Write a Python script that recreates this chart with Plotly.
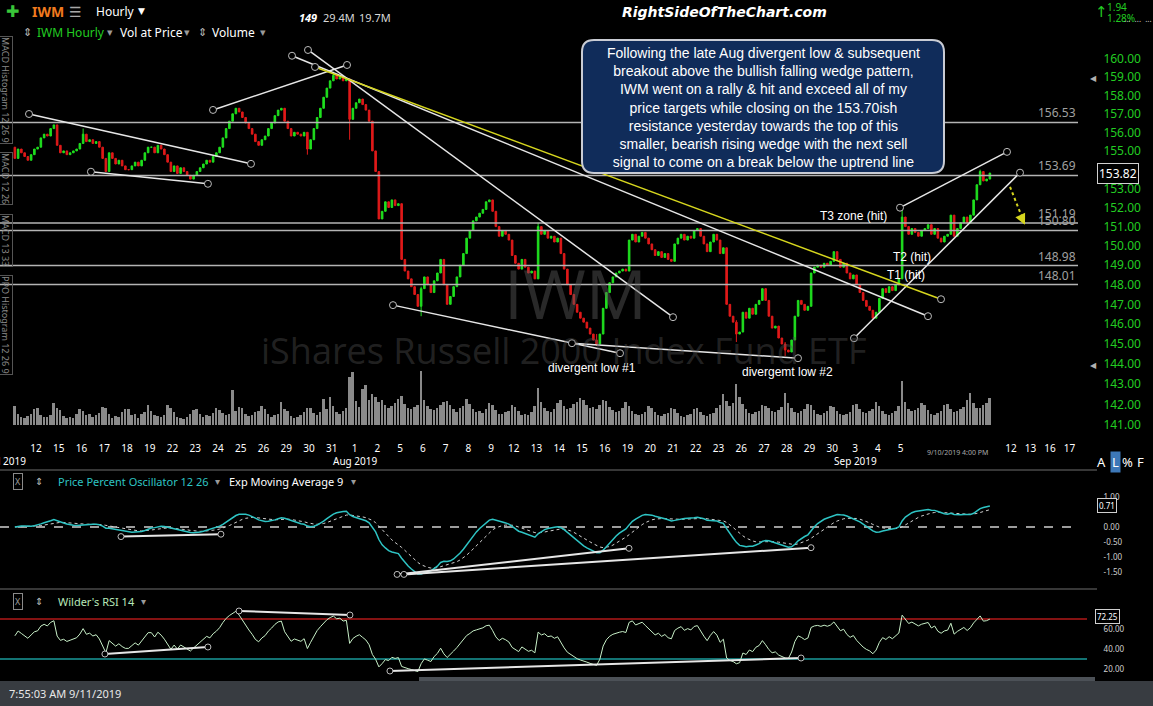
import numpy as np
import plotly.graph_objects as go

W, H = 1153, 706

# ---------------- DATA ----------------
session_days = ["Jul 11", "Jul 12", "Jul 15", "Jul 16", "Jul 17", "Jul 18", "Jul 19", "Jul 22", "Jul 23",
                "Jul 24", "Jul 25", "Jul 26", "Jul 29", "Jul 30", "Jul 31", "Aug 1", "Aug 2", "Aug 5",
                "Aug 6", "Aug 7", "Aug 8", "Aug 9", "Aug 12", "Aug 13", "Aug 14", "Aug 15", "Aug 16",
                "Aug 19", "Aug 20", "Aug 21", "Aug 22", "Aug 23", "Aug 26", "Aug 27", "Aug 28", "Aug 29",
                "Aug 30", "Sep 3", "Sep 4", "Sep 5", "Sep 6", "Sep 9", "Sep 10"]

# hourly closes, 7 bars per session
hourly_close = [
    [154.6, 155.1, 154.9, 154.7, 154.5, 154.8, 155.1],
    [155.2, 155.7, 155.9, 155.8, 156.2, 156.4, 155.3],
    [154.9, 155.0, 154.8, 154.9, 155.0, 155.1, 155.4],
    [155.9, 155.5, 155.6, 155.4, 155.5, 155.2, 154.6],
    [153.9, 154.9, 154.6, 154.3, 154.5, 154.2, 154.0],
    [154.0, 154.2, 154.4, 154.2, 154.5, 154.9, 155.2],
    [155.2, 154.9, 155.3, 155.1, 154.8, 154.4, 153.9],
    [154.2, 153.8, 154.1, 153.9, 153.7, 153.5, 153.7],
    [153.9, 154.1, 154.3, 154.5, 154.4, 154.7, 154.9],
    [155.2, 155.7, 156.2, 156.6, 157.0, 157.3, 157.1],
    [156.8, 156.5, 156.2, 155.9, 155.5, 155.3, 155.6],
    [155.8, 156.2, 156.5, 156.9, 157.2, 157.3, 156.6],
    [156.2, 155.8, 156.0, 155.9, 155.8, 156.0, 155.1],
    [155.6, 156.2, 156.8, 157.3, 157.9, 158.4, 158.8],
    [159.1, 158.9, 159.0, 158.8, 158.9, 156.7, 157.3],
    [157.6, 157.8, 157.5, 157.2, 156.6, 155.0, 153.9],
    [151.4, 151.8, 152.3, 152.0, 152.4, 152.1, 152.2],
    [149.3, 148.7, 148.3, 147.9, 147.5, 146.9, 147.8],
    [148.4, 148.0, 147.6, 148.2, 148.6, 149.3, 148.0],
    [147.0, 147.4, 147.9, 148.4, 149.0, 149.6, 150.4],
    [150.8, 151.3, 151.5, 151.7, 151.9, 152.3, 152.4],
    [151.8, 151.0, 150.5, 150.8, 150.6, 150.3, 149.5],
    [149.1, 148.8, 149.3, 148.9, 148.6, 148.7, 148.3],
    [151.0, 150.6, 150.8, 150.4, 150.5, 150.2, 150.4],
    [149.6, 148.8, 148.0, 147.5, 147.0, 146.6, 146.3],
    [146.1, 145.8, 145.5, 145.2, 145.0, 145.5, 146.8],
    [147.6, 148.1, 148.4, 148.6, 148.7, 148.8, 148.7],
    [150.3, 150.6, 150.2, 150.5, 150.7, 150.4, 150.1],
    [149.8, 149.5, 149.7, 149.4, 149.6, 149.3, 149.2],
    [150.1, 150.4, 150.6, 150.3, 150.5, 150.4, 150.8],
    [150.9, 150.5, 150.1, 149.7, 150.2, 150.6, 150.3],
    [149.6, 149.9, 147.0, 146.4, 146.1, 145.5, 145.6],
    [146.6, 146.3, 146.8, 146.5, 147.0, 147.2, 147.8],
    [147.2, 146.4, 145.8, 145.9, 145.3, 145.0, 144.7],
    [144.6, 145.2, 146.4, 147.2, 147.0, 146.7, 146.9],
    [148.6, 148.9, 149.0, 148.9, 149.1, 149.0, 149.2],
    [149.7, 149.3, 148.9, 149.1, 148.6, 148.3, 148.5],
    [148.0, 147.6, 147.2, 146.9, 146.7, 146.3, 146.6],
    [147.3, 147.8, 147.6, 147.9, 147.7, 148.0, 148.3],
    [151.5, 151.0, 150.6, 150.9, 150.7, 150.5, 150.8],
    [150.9, 151.1, 150.6, 150.9, 150.4, 150.2, 150.5],
    [150.6, 151.6, 150.5, 150.9, 151.2, 151.5, 151.2],
    [151.6, 152.4, 153.2, 153.9, 153.4, 153.5, 153.82],
]
first_open = 155.2

# notable wicks: bar index -> (high, low)
wick_bar = [21, 90, 98, 103, 125, 161, 179, 222, 237, 273, 297]
wick_high = [156.2, 156.0, 159.3, 158.9, 147.9, 151.2, 145.5, 146.2, 145.1, 152.0, 154.0]
wick_low = [155.8, 154.8, 158.8, 155.6, 146.4, 148.3, 144.9, 145.1, 144.4, 148.3, 153.2]

# hourly volume (millions)
hourly_volume = [
    [3.2, 1.8, 1.4, 1.2, 1.5, 1.9, 2.6], [2.8, 1.6, 1.3, 1.4, 1.7, 3.7, 2.9],
    [2.5, 1.5, 1.1, 1.3, 1.2, 1.8, 2.6], [2.4, 1.7, 1.9, 1.3, 1.6, 2.0, 3.0],
    [2.9, 1.8, 1.2, 1.5, 1.4, 2.2, 2.7], [2.6, 1.6, 1.8, 1.2, 1.9, 2.1, 3.3],
    [2.4, 1.7, 1.5, 1.3, 1.6, 3.3, 2.8], [2.2, 1.4, 1.2, 1.0, 1.3, 1.9, 2.5],
    [2.7, 1.9, 1.4, 1.6, 1.5, 2.0, 2.8], [2.5, 2.0, 1.6, 1.8, 5.8, 2.3, 3.0],
    [2.9, 1.8, 1.5, 1.7, 2.2, 2.4, 3.1], [2.6, 1.9, 1.4, 1.6, 1.8, 3.8, 2.7],
    [2.3, 1.5, 1.2, 1.3, 1.6, 2.1, 2.9], [2.8, 2.0, 1.7, 2.1, 4.4, 2.6, 4.6],
    [3.1, 2.2, 1.9, 2.4, 2.8, 8.0, 8.8], [4.0, 3.0, 6.0, 6.7, 4.2, 5.1, 4.6],
    [3.9, 4.2, 3.4, 2.9, 3.1, 3.6, 4.3], [4.8, 3.5, 2.9, 2.6, 3.0, 3.4, 9.0],
    [4.1, 3.2, 2.7, 2.5, 2.9, 3.3, 3.8], [4.0, 3.4, 2.6, 2.2, 2.8, 3.1, 4.3],
    [3.5, 2.7, 2.1, 2.3, 2.0, 2.6, 3.7], [3.3, 2.5, 1.9, 1.8, 2.2, 2.4, 3.4],
    [3.0, 2.3, 1.7, 1.9, 1.6, 2.1, 3.2], [6.2, 3.8, 2.8, 2.4, 2.2, 2.7, 3.6],
    [4.2, 3.1, 2.7, 2.9, 3.5, 3.9, 4.5], [4.1, 3.3, 2.8, 3.0, 2.6, 3.4, 4.2],
    [4.0, 3.0, 2.5, 2.2, 2.4, 2.9, 3.8], [3.2, 2.4, 1.8, 1.7, 1.9, 2.2, 3.1],
    [2.9, 2.1, 1.6, 1.5, 1.8, 2.0, 2.8], [2.7, 2.0, 1.5, 1.4, 1.7, 1.9, 2.6],
    [2.8, 2.2, 1.7, 1.5, 1.8, 2.0, 2.9], [3.3, 5.1, 4.0, 3.2, 3.6, 6.8, 4.7],
    [3.5, 2.6, 2.0, 1.8, 2.1, 2.4, 3.4], [3.2, 2.9, 2.3, 2.1, 2.5, 3.0, 5.3],
    [3.6, 2.8, 2.2, 2.0, 2.4, 2.7, 3.5], [3.4, 2.5, 1.9, 1.7, 2.0, 2.3, 3.1],
    [3.0, 2.3, 1.8, 1.6, 1.9, 2.2, 3.3], [3.5, 2.7, 2.1, 2.0, 2.3, 2.6, 3.8],
    [3.1, 2.4, 1.8, 1.7, 2.0, 2.3, 3.2], [7.3, 3.9, 2.6, 2.3, 2.5, 2.8, 3.6],
    [3.3, 2.5, 1.9, 1.7, 2.0, 2.4, 3.4], [3.5, 2.7, 2.2, 2.4, 2.6, 3.0, 4.1],
    [5.3, 3.6, 2.8, 2.9, 3.3, 3.7, 4.5],
]

# x-axis tick labels (session day numbers) and future dates
tick_text = ["12", "15", "16", "17", "18", "19", "22", "23", "24", "25", "26", "29", "30", "31",
             "1", "2", "5", "6", "7", "8", "9", "12", "13", "14", "15", "16", "19", "20", "21", "22",
             "23", "26", "27", "28", "29", "30", "3", "4", "5"]
future_tick_text = ["12", "13", "16", "17"]
future_tick_bar = [306.5, 312.5, 318.5, 324.5]
month_text = ["Jul 2019", "Aug 2019", "Sep 2019"]
month_day_index = [0, 15, 37]

# 154 is hidden behind the last-price box in the reference
price_ticks = [t for t in range(141, 161) if t != 154]

# horizontal levels
levels = [156.53, 153.69, 151.19, 150.80, 148.98, 148.01]

# trend lines
trend_x0 = [4.35, 23.4, 60.96, 85.27, 90.19, 116.35, 171.4, 272.35, 258.19, 92.35]
trend_p0 = [156.99, 153.89, 157.21, 160.18, 160.50, 146.96, 145.04, 151.99, 145.29, 159.56]
trend_x1 = [72.65, 59.4, 102.2, 280.96, 202.5, 186.2, 240.96, 305.27, 309.27, 284.97]
trend_p1 = [154.31, 153.25, 159.67, 146.40, 146.35, 144.54, 144.29, 154.95, 153.84, 147.26]
trend_col = ["w", "w", "w", "w", "w", "w", "w", "w", "w", "y"]
arrow_x = [306.2, 310.8]
arrow_p = [153.09, 151.10]

note_text = ["T3 zone (hit)", "T2 (hit)", "T1 (hit)", "divergent low #1", "divergemt low #2"]
note_x = [257.9, 276.0, 274.2, 177.6, 237.6]
note_p = [151.57, 149.44, 148.51, 143.80, 143.60]

ppo_tl_x0 = [32.65, 117.6, 119.7]
ppo_tl_v0 = [-0.32, -1.58, -1.58]
ppo_tl_x1 = [63.4, 188.97, 244.97]
ppo_tl_v1 = [-0.24, -0.71, -0.69]

rsi_tl_x0 = [27.7, 68.96, 115.4]
rsi_tl_v0 = [35, 78, 18]
rsi_tl_x1 = [59.4, 103.1, 241.9]
rsi_tl_v1 = [42, 74, 31]

last_price_label = 153.82
last_ppo_label = 0.71
last_rsi_label = 72.25
ppo_ticks = [1.0, 0.0, -0.5, -1.0, -1.5]
rsi_ticks = [60, 40, 20]

note_lines = ["Following the late Aug divergent low & subsequent",
              "breakout above the bullish falling wedge pattern,",
              "IWM went on a rally & hit and exceed all of my",
              "price targets while closing on the 153.70ish",
              "resistance yesterday towards the top of this",
              "smaller, bearish rising wedge with the next sell",
              "signal to come on a break below the uptrend line"]

# ---------------- DERIVED ----------------
close = np.array([v for day in hourly_close for v in day])
volume = np.array([v for day in hourly_volume for v in day])
n = len(close)
bars = np.arange(n)
opens = np.concatenate([[first_open], close[:-1]])
high = np.maximum(opens, close)
low = np.minimum(opens, close)
for b, hv, lv in zip(wick_bar, wick_high, wick_low):
    high[b] = max(high[b], hv)
    low[b] = min(low[b], lv)


def ema(vals, span):
    k = 2.0 / (span + 1)
    out = [vals[0]]
    for v in vals[1:]:
        out.append(out[-1] + k * (v - out[-1]))
    return np.array(out)


e12, e26 = ema(close, 12), ema(close, 26)
ppo = (e12 - e26) / e26 * 100
ppo_sig = ema(ppo, 9)

diff = np.diff(close)
gain = np.where(diff > 0, diff, 0.0)
loss = np.where(diff < 0, -diff, 0.0)
ag, al = gain[:14].mean(), loss[:14].mean()
rsi = [100 - 100 / (1 + ag / al)]
for g_, l_ in zip(gain, loss):
    ag = (ag * 13 + g_) / 14
    al = (al * 13 + l_) / 14
    rsi.append(100 - 100 / (1 + ag / al))
rsi = np.array(rsi)

# ---------------- GEOMETRY ----------------
BAR0_PX, BAR_PX = 14.875, 3.25
PLOT_R = 1087


def bar_of(xpx):
    return (xpx - BAR0_PX) / BAR_PX


XR = [bar_of(0), bar_of(PLOT_R)]
K = 0.00015  # log10 per px
LOG160_PX = 59


def logp_of(ypx):
    return np.log10(160) - (ypx - LOG160_PX) * K


def pp(x, y):
    return x / W, 1 - y / H


PRICE_TOP, PRICE_BOT = 38, 437
PPO_TOP, PPO_BOT = 472, 584
RSI_TOP, RSI_BOT = 590, 680

WHITE = "#e6e6e6"
YEL = "#d6d61e"
GREEN_UP = "#1fe01f"
RED_DN = "#e01a1a"

fig = go.Figure()

fig.add_trace(go.Bar(x=bars, y=volume, marker=dict(color="#8a8a8a", line=dict(width=0)),
                     width=0.55, xaxis="x", yaxis="y", hoverinfo="skip"))

fig.add_trace(go.Candlestick(x=bars, open=opens, high=high, low=low, close=close,
                             increasing=dict(line=dict(color=GREEN_UP, width=1), fillcolor=GREEN_UP),
                             decreasing=dict(line=dict(color=RED_DN, width=1), fillcolor=RED_DN),
                             whiskerwidth=0, xaxis="x", yaxis="y2", hoverinfo="skip"))

lvl_end = bar_of(1078)
for lv in levels:
    fig.add_trace(go.Scatter(x=[XR[0], lvl_end], y=[lv, lv], mode="lines",
                             line=dict(color="#b4b4b4", width=1.5), xaxis="x", yaxis="y2",
                             hoverinfo="skip"))

for x0, p0, x1, p1, c in zip(trend_x0, trend_p0, trend_x1, trend_p1, trend_col):
    col = YEL if c == "y" else WHITE
    fig.add_trace(go.Scatter(x=[x0, x1], y=[p0, p1], mode="lines+markers",
                             line=dict(color=col, width=1.5),
                             marker=dict(symbol="circle", size=7, color="black",
                                         line=dict(color="#bdbdbd", width=1)),
                             xaxis="x", yaxis="y2", hoverinfo="skip"))
fig.add_trace(go.Scatter(x=arrow_x, y=arrow_p, mode="lines", line=dict(color=YEL, width=2, dash="dot"),
                         xaxis="x", yaxis="y2", hoverinfo="skip"))

# PPO panel
fig.add_trace(go.Scatter(x=[XR[0], bar_of(1075)], y=[0, 0], mode="lines",
                         line=dict(color="#cfcfcf", width=1.3, dash="dash"), xaxis="x", yaxis="y3",
                         hoverinfo="skip"))
fig.add_trace(go.Scatter(x=bars, y=ppo_sig, mode="lines", line=dict(color="#d0d0d0", width=1, dash="dot"),
                         xaxis="x", yaxis="y3", hoverinfo="skip"))
fig.add_trace(go.Scatter(x=bars, y=ppo, mode="lines", line=dict(color="#2ec4c4", width=1.5),
                         xaxis="x", yaxis="y3", hoverinfo="skip"))
for x0, v0, x1, v1 in zip(ppo_tl_x0, ppo_tl_v0, ppo_tl_x1, ppo_tl_v1):
    fig.add_trace(go.Scatter(x=[x0, x1], y=[v0, v1], mode="lines+markers",
                             line=dict(color=WHITE, width=2),
                             marker=dict(size=6, color="black", line=dict(color="#bdbdbd", width=1)),
                             xaxis="x", yaxis="y3", hoverinfo="skip"))

# RSI panel
fig.add_trace(go.Scatter(x=[XR[0], bar_of(1097)], y=[70, 70], mode="lines",
                         line=dict(color="#b01818", width=1.5), xaxis="x", yaxis="y4", hoverinfo="skip"))
fig.add_trace(go.Scatter(x=[XR[0], bar_of(1097)], y=[30, 30], mode="lines",
                         line=dict(color="#1a9a9a", width=1.5), xaxis="x", yaxis="y4", hoverinfo="skip"))
fig.add_trace(go.Scatter(x=bars, y=rsi, mode="lines", line=dict(color="#c8f0c8", width=1),
                         xaxis="x", yaxis="y4", hoverinfo="skip"))
for x0, v0, x1, v1 in zip(rsi_tl_x0, rsi_tl_v0, rsi_tl_x1, rsi_tl_v1):
    fig.add_trace(go.Scatter(x=[x0, x1], y=[v0, v1], mode="lines+markers",
                             line=dict(color=WHITE, width=2),
                             marker=dict(size=6, color="black", line=dict(color="#bdbdbd", width=1)),
                             xaxis="x", yaxis="y4", hoverinfo="skip"))

# ---------------- LAYOUT ----------------
tickvals = [7 * d - 0.5 for d in range(1, len(tick_text) + 1)] + future_tick_bar
ticktext = tick_text + future_tick_text

dom_x = [0, PLOT_R / W]


def ydom(top, bot):
    return [1 - bot / H, 1 - top / H]


axis_font = dict(family="Noto Sans", size=12, color="#22cc22")
small_font = dict(family="Noto Sans", size=8, color="#d0d0d0")

fig.update_layout(
    width=W, height=H, autosize=False,
    margin=dict(l=0, r=0, t=0, b=0),
    paper_bgcolor="black", plot_bgcolor="rgba(0,0,0,0)",
    showlegend=False, bargap=0,
    xaxis=dict(domain=dom_x, range=XR, anchor="y", tickvals=tickvals, ticktext=ticktext,
               tickfont=dict(family="Noto Sans", size=10, color="white"), ticks="outside",
               ticklen=2, tickcolor="black", showgrid=False, zeroline=False, showline=False,
               rangeslider=dict(visible=False), fixedrange=True),
    yaxis=dict(domain=ydom(PRICE_TOP, PRICE_BOT), range=[-(PRICE_BOT - 425) / 6, (425 - PRICE_TOP) / 6],
               visible=False, showgrid=False, zeroline=False, anchor="x"),
    yaxis2=dict(overlaying="y", type="log", side="right", anchor="x",
                range=[logp_of(PRICE_BOT), logp_of(PRICE_TOP)],
                tickvals=price_ticks, ticktext=["%.2f" % t for t in price_ticks],
                tickfont=axis_font, ticks="outside", ticklen=0, ticklabelstandoff=13,
                showgrid=False, zeroline=False, showline=False),
    yaxis3=dict(domain=ydom(PPO_TOP, PPO_BOT), anchor="x", side="right",
                range=[-(PPO_BOT - 527) / 30, (527 - PPO_TOP) / 30],
                tickvals=ppo_ticks, ticktext=["%.2f" % t for t in ppo_ticks], tickfont=small_font,
                ticks="outside", ticklen=0, ticklabelstandoff=14,
                showgrid=False, zeroline=False, showline=False),
    yaxis4=dict(domain=ydom(RSI_TOP, RSI_BOT), anchor="x", side="right",
                range=[689 - RSI_BOT, 689 - RSI_TOP],
                tickvals=rsi_ticks, ticktext=["%.2f" % t for t in rsi_ticks], tickfont=small_font,
                ticks="outside", ticklen=0, ticklabelstandoff=14,
                showgrid=False, zeroline=False, showline=False),
)

shapes = []
ann = []


def A(text, x, y, size=11, color="white", family="Noto Sans", xanchor="left", yanchor="middle", **kw):
    xx, yy = pp(x, y)
    d = dict(text=text, x=xx, y=yy, xref="paper", yref="paper", showarrow=False,
             xanchor=xanchor, yanchor=yanchor, font=dict(size=size, color=color, family=family))
    d.update(kw)
    ann.append(d)


for ysep in [470, 589]:
    x0, y0 = pp(0, ysep)
    x1, _ = pp(1097, ysep)
    shapes.append(dict(type="line", xref="paper", yref="paper", x0=x0, x1=x1, y0=y0, y1=y0,
                       line=dict(color="#4a4a4a", width=1.5)))
x0, y0 = pp(0, 681)
x1, y1 = pp(W, H)
shapes.append(dict(type="rect", xref="paper", yref="paper", x0=x0, x1=x1, y0=y1, y1=y0,
                   fillcolor="#383c41", line=dict(width=0), layer="above"))
x0, y0 = pp(419, 677)
x1, y1 = pp(1095, 681)
shapes.append(dict(type="rect", xref="paper", yref="paper", x0=x0, x1=x1, y0=y1, y1=y0,
                   fillcolor="#4c5157", line=dict(width=0)))

# rounded note box
bx0, by0, bx1, by1, r = 582, 40, 944, 173, 12


def P(x, y):
    a, b = pp(x, y)
    return "%.5f,%.5f" % (a, b)


path = ("M %s L %s Q %s %s L %s Q %s %s L %s Q %s %s L %s Q %s %s Z" % (
    P(bx0 + r, by0), P(bx1 - r, by0), P(bx1, by0), P(bx1, by0 + r), P(bx1, by1 - r), P(bx1, by1),
    P(bx1 - r, by1), P(bx0 + r, by1), P(bx0, by1), P(bx0, by1 - r), P(bx0, by0 + r), P(bx0, by0),
    P(bx0 + r, by0)))
shapes.append(dict(type="path", path=path, xref="paper", yref="paper", fillcolor="#102c5a",
                   line=dict(color="#c9ccd4", width=2), layer="above"))
A("<br>".join(note_lines), (bx0 + bx1) / 2, (by0 + by1) / 2 + 1, size=14, color="white",
  family="Liberation Sans", xanchor="center", align="center")

# watermarks
A("IWM", 575, 292, size=68, color="rgba(90,90,90,0.45)", family="Open Sans", xanchor="center")
A("iShares Russell 2000 Index Fund ETF", 563, 350, size=36, color="rgba(80,80,80,0.42)",
  family="Open Sans", xanchor="center")

for lv in levels:
    ann.append(dict(text="%.2f" % lv, x=lvl_end, y=np.log10(lv), xref="x", yref="y2", showarrow=False,
                    xanchor="right", yanchor="bottom", yshift=-1,
                    font=dict(size=12, color="#a0a0a0", family="Noto Sans")))

for t, bx, p in zip(note_text, note_x, note_p):
    ann.append(dict(text=t, x=bx, y=np.log10(p), xref="x", yref="y2", showarrow=False,
                    xanchor="center", yanchor="middle",
                    font=dict(size=12, color="white", family="Liberation Sans")))

ann.append(dict(x=arrow_x[1], y=np.log10(arrow_p[1]), ax=arrow_x[1] - 1.2,
                ay=np.log10(arrow_p[1]) + 0.0012, xref="x", yref="y2", axref="x", ayref="y2",
                showarrow=True, arrowhead=2, arrowsize=1.2, arrowwidth=1.8, arrowcolor=YEL, text=""))

ann.append(dict(text="%.2f" % last_price_label, x=PLOT_R / W + 10 / W, y=np.log10(last_price_label),
                xref="paper", yref="y2", showarrow=False, xanchor="left", yanchor="middle",
                font=dict(size=12, color="white", family="Noto Sans"),
                bgcolor="black", bordercolor="#d0d0d0", borderwidth=1, borderpad=1))
ann.append(dict(text="%.2f" % last_ppo_label, x=1097 / W, y=last_ppo_label, xref="paper", yref="y3",
                showarrow=False, xanchor="left", yanchor="middle",
                font=dict(size=8, color="white", family="Noto Sans"),
                bgcolor="black", bordercolor="#d0d0d0", borderwidth=1, borderpad=1))
ann.append(dict(text="%.2f" % last_rsi_label, x=1095 / W, y=last_rsi_label, xref="paper", yref="y4",
                showarrow=False, xanchor="left", yanchor="middle",
                font=dict(size=8, color="white", family="Noto Sans"),
                bgcolor="black", bordercolor="#d0d0d0", borderwidth=1, borderpad=1))
for lvp in [159, 144]:
    ann.append(dict(text="◀", x=1093 / W, y=np.log10(lvp), xref="paper", yref="y2", showarrow=False,
                    xanchor="center", yanchor="middle", font=dict(size=8, color="#b0b0b0")))

for t, di in zip(month_text, month_day_index):
    cx = BAR0_PX + BAR_PX * (7 * di - 0.5)
    if di == 0:
        A(t, 28, 461, size=10, xanchor="right")
    else:
        A(t, cx, 461, size=10, xanchor="center")
A("9/10/2019 4:00 PM", 957, 452, size=7, color="#a8a8a8", xanchor="center")
A("A", 1101, 462, size=13, xanchor="center")
A("L", 1115, 462, size=13, xanchor="center", bgcolor="#3d78b8")
A("%", 1127, 462, size=13, xanchor="center")
A("F", 1140, 462, size=13, xanchor="center")

# header
A("✚", 4, 12, size=16, color="#39c639", family="DejaVu Sans")
A("<b>IWM</b>", 30, 12, size=14, color="#f07a1e")
A("☰", 67, 12, size=14, color="#a8a8a8", family="DejaVu Sans")
A("Hourly", 94, 12, size=12, color="white")
A("▼", 136, 11, size=9, color="white", family="DejaVu Sans")
A("<b><i>149</i></b>", 297, 17, size=11, color="white")
A("29.4M", 321, 17, size=11, color="#d8d8d8")
A("19.7M", 357, 17, size=11, color="#d8d8d8")
A("<b><i>RightSideOfTheChart.com</i></b>", 724, 12, size=14, color="white", family="DejaVu Sans",
  xanchor="center")
A("↑", 1093, 12, size=15, color="#22cc22", family="DejaVu Sans")
A("1.94", 1105, 7, size=10, color="#22cc22")
A("1.28%", 1105, 18, size=10, color="#22cc22")
A("...  ...  ...  +1", 1122, 18, size=8, color="#cfcfcf")
A("⇕", 21, 33, size=11, color="#bbbbbb", family="DejaVu Sans")
A("IWM Hourly", 35, 33, size=12, color="#22cc22")
A("▾", 105, 33, size=11, color="#9a9a9a", family="DejaVu Sans")
A("Vol at Price", 118, 33, size=12, color="white")
A("▾", 182, 33, size=11, color="#9a9a9a", family="DejaVu Sans")
A("⇕", 196, 33, size=11, color="#bbbbbb", family="DejaVu Sans")
A("Volume", 210, 33, size=12, color="white")
A("▾", 258, 33, size=11, color="#9a9a9a", family="DejaVu Sans")

# panel headers
A("X", 13, 481, size=9, color="#9a9a9a", bordercolor="#8a8a8a", borderwidth=1, borderpad=1)
A("⇕", 33, 481, size=10, color="#bbbbbb", family="DejaVu Sans")
A("Price Percent Oscillator 12 26", 56, 481, size=11, color="#2ec4c4")
A("▾", 213, 481, size=10, color="#9a9a9a", family="DejaVu Sans")
A("Exp Moving Average 9", 227, 481, size=11, color="white")
A("▾", 349, 481, size=10, color="#9a9a9a", family="DejaVu Sans")
A("X", 13, 601, size=9, color="#9a9a9a", bordercolor="#8a8a8a", borderwidth=1, borderpad=1)
A("⇕", 33, 601, size=10, color="#bbbbbb", family="DejaVu Sans")
A("Wilder's RSI 14", 56, 601, size=11, color="#b8e8b8")
A("▾", 139, 601, size=10, color="#9a9a9a", family="DejaVu Sans")

for t, yc in [("MACD Histogram 12 26 9", 90), ("MACD 12 26", 178), ("MACD 13 33", 240),
              ("PPO Histogram 12 26 9", 325)]:
    A(t, 6, yc, size=9, color="#8a8a8a", xanchor="center", textangle=90,
      bordercolor="#555555", borderwidth=1, borderpad=0)

A("7:55:03 AM 9/11/2019", 7, 693, size=11, color="#e8e8e8")

fig.update_layout(shapes=shapes, annotations=ann)
fig.write_html("out.html")
